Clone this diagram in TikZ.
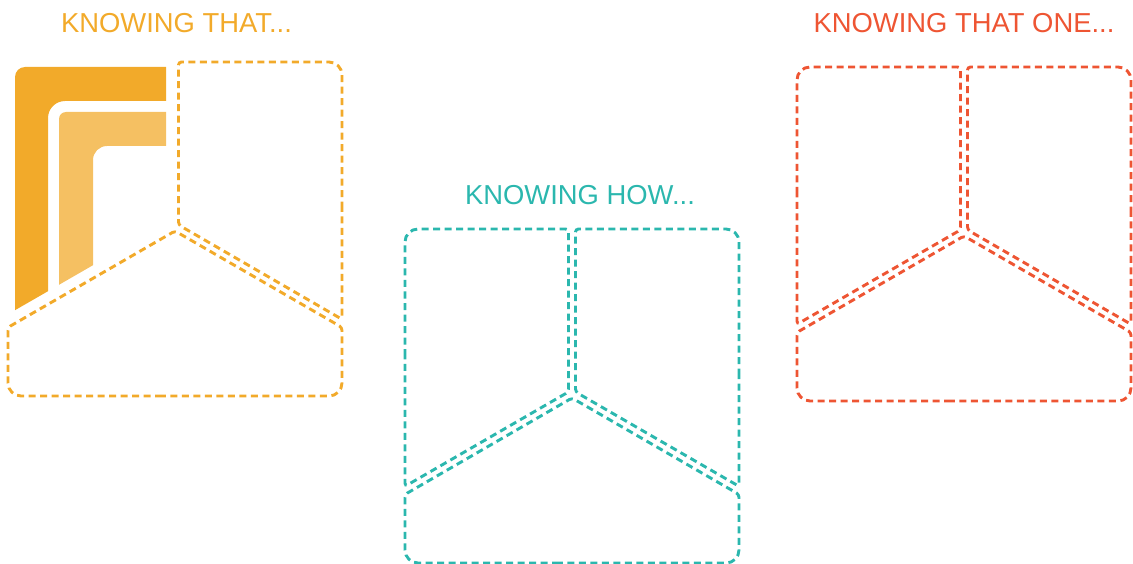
\documentclass[tikz,border=0pt]{standalone}
\usepackage{fontspec}
\setmainfont{Liberation Sans}
\definecolor{kor}{HTML}{F2AA2A}
\definecolor{korl}{HTML}{F5C062}
\definecolor{kteal}{HTML}{2BB7AE}
\definecolor{kred}{HTML}{EE5533}
\tikzset{
  dsh/.style={dash pattern=on 7pt off 4.5pt, line width=2.9pt},
  ttl/.style={anchor=base, inner sep=0pt, font=\fontsize{27.4}{30}\selectfont},
  pics/knowtl/.style={code={
    \draw[dsh,#1] (0,130) [rounded corners=13] -- (0,0) [rounded corners=3] -- (163.5,0) -- (163.5,162.9) -- (0,257.3) -- cycle;
  }},
  pics/knowtr/.style={code={
    \draw[dsh,#1] (334,130) [rounded corners=3] -- (334,257.3) -- (170.5,162.9) -- (170.5,0) [rounded corners=13] -- (334,0) -- cycle;
  }},
  pics/knowbot/.style={code={
    \draw[dsh,#1] (167,334) [rounded corners=13] -- (0,334) [rounded corners=3] -- (0,265.4) -- (167,169) -- (334,265.4) [rounded corners=13] -- (334,334) -- cycle;
  }},
  pics/knowlogo/.style={code={
    \fill[kor] (7,130) [rounded corners=10] -- (7,5) [sharp corners] -- (158,5) -- (158,39) [rounded corners=17] -- (40,39) [sharp corners] -- (40,229.2) -- (7,248.2) -- cycle;
    \fill[korl] (51,130) [rounded corners=7] -- (51,50) [sharp corners] -- (158,50) -- (158,84) [rounded corners=14] -- (85,84) [sharp corners] -- (85,203.2) -- (51,222.8) -- cycle;
  }},
}
\begin{document}
\begin{tikzpicture}[x=1pt,y=-1pt]
\useasboundingbox (0,0) rectangle (1133,564);
% titles
\node[ttl, text=kor] (t1) at (176.5,33) {KNOWING THAT...};
\node[ttl, text=kteal] (t2) at (580,205) {KNOWING HOW...};
\node[ttl, text=kred] (t3) at (964,33) {KNOWING THAT ONE...};
% left panel
\pic at (8,62) {knowlogo};
\pic at (8,62) {knowtr=kor};
\pic at (8,62) {knowbot=kor};
% middle panel
\pic at (405,229) {knowtl=kteal};
\pic at (405,229) {knowtr=kteal};
\pic at (405,229) {knowbot=kteal};
% right panel
\pic at (797,67) {knowtl=kred};
\pic at (797,67) {knowtr=kred};
\pic at (797,67) {knowbot=kred};
\end{tikzpicture}
\end{document}
